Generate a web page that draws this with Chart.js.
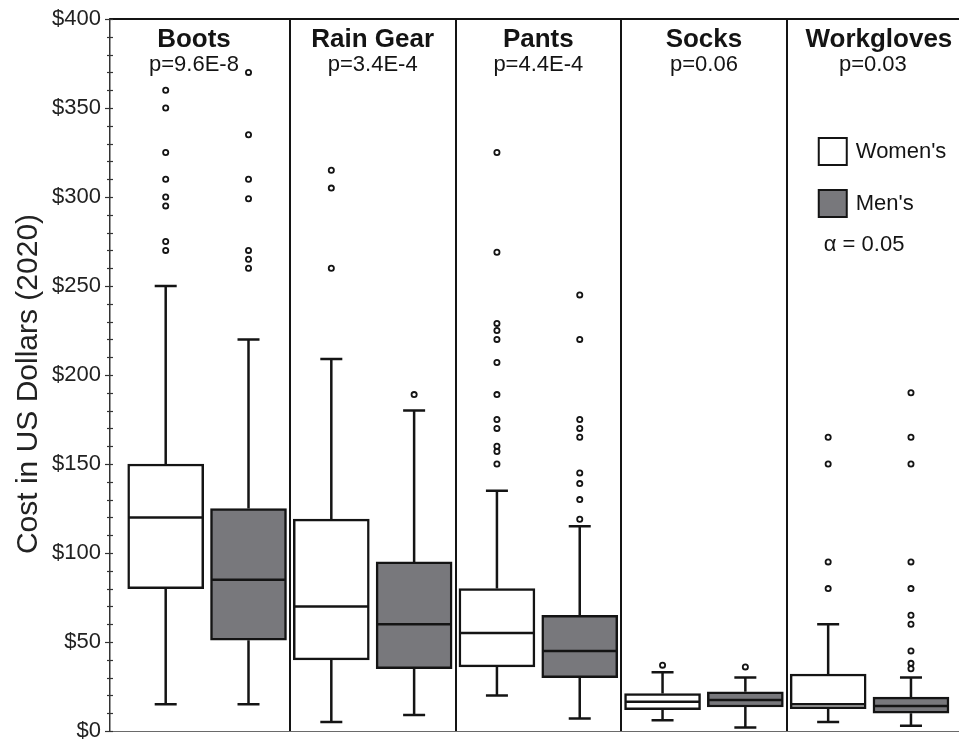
<!DOCTYPE html>
<html>
<head>
<meta charset="utf-8">
<style>
  html, body { margin: 0; padding: 0; background: #ffffff; }
  #wrap { width: 959px; height: 740px; }
</style>
<script src="https://cdn.jsdelivr.net/npm/chart.js@4.4.0/dist/chart.umd.min.js"></script>
</head>
<body>
<div id="wrap"><canvas id="c" width="959" height="740"></canvas></div>
<script>
// Work clothing cost by category, women's vs men's
const categories = ['Boots', 'Rain Gear', 'Pants', 'Socks', 'Workgloves'];
const pValues = ['p=9.6E-8', 'p=3.4E-4', 'p=4.4E-4', 'p=0.06', 'p=0.03'];

// [lower whisker, Q1, median, Q3, upper whisker]
const womensStats = [
  [15, 80, 120, 150, 250],
  [5, 40, 70, 119, 209],
  [20, 36, 55, 80, 135],
  [6, 12, 16.5, 21, 33],
  [5, 12.5, 15, 32, 60]
];
const mensStats = [
  [15, 51, 85, 125, 220],
  [9, 35, 60, 95, 180],
  [7, 30, 45, 65, 115],
  [2, 13.5, 17.4, 22, 30],
  [3, 10, 14, 19, 30]
];
const womensOutliers = [
  [360, 350, 325, 310, 300, 295, 275, 270],
  [315, 305, 260],
  [325, 269, 229, 225, 220, 207, 189, 175, 170, 160, 157, 150],
  [37],
  [165, 150, 95, 80]
];
const mensOutliers = [
  [370, 335, 310, 299, 270, 265, 260],
  [189],
  [245, 220, 175, 170, 165, 145, 139, 130, 119],
  [36],
  [190, 165, 150, 95, 80, 65, 60, 45, 38, 35]
];
const seriesNames = ["Women's", "Men's"];
const alphaNote = '\u03B1 = 0.05';
const yTitle = 'Cost in US Dollars (2020)';

const FONT = "'Liberation Sans', Arial, sans-serif";
const INK = '#141414';
const MEN_FILL = '#78787c';
const WOMEN_FILL = '#ffffff';

// each category occupies two slots on the x axis: women at 2i, men at 2i+1
const boxes = [];
categories.forEach((c, i) => {
  boxes.push({ x: 2 * i, stats: womensStats[i], fill: WOMEN_FILL });
  boxes.push({ x: 2 * i + 1, stats: mensStats[i], fill: MEN_FILL });
});

const boxData = boxes.map(b => ({ x: b.x, y: [b.stats[1], b.stats[3]] }));
const boxFills = boxes.map(b => b.fill);

const outlierPoints = [];
categories.forEach((c, i) => {
  womensOutliers[i].forEach(v => outlierPoints.push({ x: 2 * i, y: v }));
  mensOutliers[i].forEach(v => outlierPoints.push({ x: 2 * i + 1, y: v }));
});

const boxplotParts = {
  id: 'boxplotParts',
  beforeDatasetsDraw(chart) {
    const { ctx, chartArea: a, scales: { x, y } } = chart;
    ctx.save();
    // panel dividers
    ctx.strokeStyle = INK;
    ctx.lineWidth = 2;
    for (let k = 0; k < categories.length - 1; k++) {
      const px = Math.round(x.getPixelForValue(2 * k + 1.5));
      ctx.beginPath();
      ctx.moveTo(px, a.top);
      ctx.lineTo(px, a.bottom);
      ctx.stroke();
    }
    // top frame line
    ctx.beginPath();
    ctx.moveTo(a.left, a.top);
    ctx.lineTo(a.right, a.top);
    ctx.stroke();
    // bottom axis line
    ctx.strokeStyle = '#6a6a6a';
    ctx.lineWidth = 1.2;
    ctx.beginPath();
    ctx.moveTo(a.left, a.bottom + 0.5);
    ctx.lineTo(a.right, a.bottom + 0.5);
    ctx.stroke();

    // whiskers and caps
    ctx.strokeStyle = INK;
    ctx.lineWidth = 2.5;
    const capHalf = 11;
    boxes.forEach(b => {
      const cx = x.getPixelForValue(b.x);
      const [lo, q1, , q3, hi] = b.stats.map(v => y.getPixelForValue(v));
      ctx.beginPath();
      ctx.moveTo(cx, q3); ctx.lineTo(cx, hi);
      ctx.moveTo(cx, q1); ctx.lineTo(cx, lo);
      ctx.moveTo(cx - capHalf, hi); ctx.lineTo(cx + capHalf, hi);
      ctx.moveTo(cx - capHalf, lo); ctx.lineTo(cx + capHalf, lo);
      ctx.stroke();
    });
    ctx.restore();
  },
  afterDatasetsDraw(chart) {
    const { ctx, chartArea: a, scales: { x, y } } = chart;
    ctx.save();
    // medians
    ctx.strokeStyle = INK;
    ctx.lineWidth = 2.5;
    const barMeta = chart.getDatasetMeta(0);
    boxes.forEach((b, i) => {
      const el = barMeta.data[i];
      const half = el.width / 2;
      const cx = x.getPixelForValue(b.x);
      const my = y.getPixelForValue(b.stats[2]);
      ctx.beginPath();
      ctx.moveTo(cx - half + 1, my);
      ctx.lineTo(cx + half - 1, my);
      ctx.stroke();
    });

    // y-axis tick marks (major every 50, minor every 10)
    const ax = a.left;
    ctx.strokeStyle = '#333';
    ctx.lineWidth = 1.2;
    for (let v = 0; v <= 400; v += 10) {
      const py = Math.round(y.getPixelForValue(v)) + 0.5;
      const major = v % 50 === 0;
      ctx.beginPath();
      ctx.moveTo(ax - (major ? 5 : 3), py);
      ctx.lineTo(ax + 3, py);
      ctx.stroke();
    }

    // y-axis title
    ctx.fillStyle = '#222';
    ctx.font = `30px ${FONT}`;
    ctx.textAlign = 'center';
    ctx.textBaseline = 'middle';
    ctx.translate(29, (a.top + a.bottom) / 2 + 9);
    ctx.rotate(-Math.PI / 2);
    ctx.fillText(yTitle, 0, 0);
    ctx.setTransform(1, 0, 0, 1, 0, 0);

    // panel headings; the first panel's heading sits a little left so it
    // clears the highest outlier
    ctx.fillStyle = INK;
    ctx.textAlign = 'center';
    ctx.textBaseline = 'alphabetic';
    categories.forEach((c, i) => {
      const l = i === 0 ? a.left : x.getPixelForValue(2 * i - 0.5);
      const r = i === categories.length - 1 ? a.right : x.getPixelForValue(2 * i + 1.5);
      const cx = (l + r) / 2 + (i === 0 ? -6 : 0);
      ctx.font = `bold 26px ${FONT}`;
      ctx.fillText(c, cx + (i === categories.length - 1 ? 6 : 0), a.top + 28);
      ctx.font = `22px ${FONT}`;
      ctx.fillText(pValues[i], cx, a.top + 52);
    });

    // key, placed inside the last panel
    const kx = x.getPixelForValue(7.5) + 32;
    const ky = a.top + 119;
    ctx.lineWidth = 2;
    ctx.strokeStyle = INK;
    ctx.fillStyle = WOMEN_FILL;
    ctx.fillRect(kx, ky, 28, 27);
    ctx.strokeRect(kx, ky, 28, 27);
    ctx.fillStyle = MEN_FILL;
    ctx.fillRect(kx, ky + 52, 28, 27);
    ctx.strokeRect(kx, ky + 52, 28, 27);
    ctx.fillStyle = INK;
    ctx.textAlign = 'left';
    ctx.textBaseline = 'middle';
    ctx.font = `22px ${FONT}`;
    ctx.fillText(seriesNames[0], kx + 37, ky + 14);
    ctx.fillText(seriesNames[1], kx + 37, ky + 66);
    ctx.fillText(alphaNote, kx + 5, ky + 107);
    ctx.restore();
  }
};

new Chart(document.getElementById('c'), {
  type: 'bar',
  data: {
    datasets: [
      {
        type: 'bar',
        data: boxData,
        backgroundColor: boxFills,
        borderColor: INK,
        borderWidth: 2.5,
        borderSkipped: false,
        barThickness: 76,
        order: 2
      },
      {
        type: 'scatter',
        data: outlierPoints,
        pointRadius: 2.6,
        pointBorderWidth: 1.8,
        pointBackgroundColor: '#ffffff',
        pointBorderColor: INK,
        order: 1
      }
    ]
  },
  options: {
    responsive: false,
    devicePixelRatio: 1,
    animation: false,
    layout: { autoPadding: false, padding: { top: 19, right: 0, bottom: 9, left: 0 } },
    plugins: { legend: { display: false }, tooltip: { enabled: false } },
    scales: {
      x: {
        type: 'linear',
        min: -0.6726,
        max: 9.58,
        offset: false,
        display: false
      },
      y: {
        min: 0,
        max: 400,
        ticks: {
          stepSize: 50,
          padding: 9,
          color: '#222',
          font: { family: FONT, size: 22 },
          callback: v => '$' + v
        },
        grid: { display: false, drawTicks: false },
        border: { display: true, color: '#333', width: 1.5 },
        title: { display: false },
        afterFit(scale) {
          scale.width = 110;
          scale.paddingTop = 0;
          scale.paddingBottom = 0;
        }
      }
    }
  },
  plugins: [boxplotParts]
});
</script>
</body>
</html>
